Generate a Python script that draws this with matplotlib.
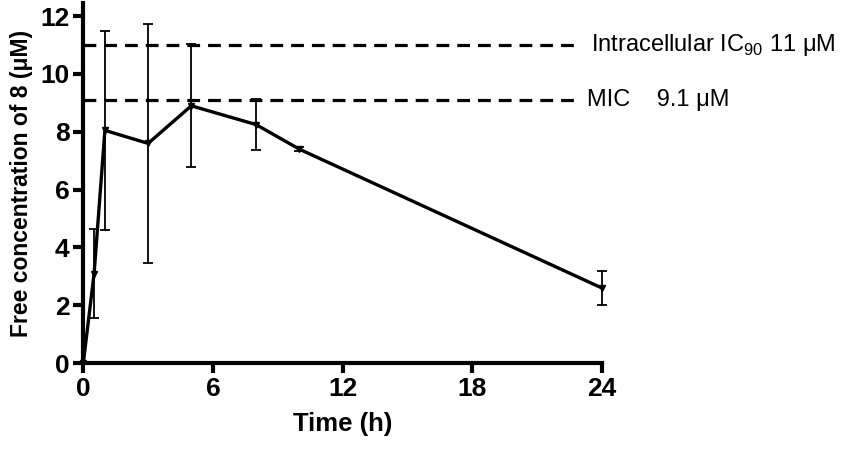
import numpy as np
import matplotlib.pyplot as plt

plt.rcParams['font.family'] = ['Liberation Sans', 'DejaVu Sans']
plt.rcParams['mathtext.fontset'] = 'custom'
plt.rcParams['mathtext.rm'] = 'Liberation Sans'

# free concentration of 8 over time
time_h = [0, 0.5, 1, 3, 5, 8, 10, 24]
conc = [0.0, 3.1, 8.05, 7.6, 8.9, 8.25, 7.4, 2.6]
conc_err = [0.0, 1.55, 3.45, 4.12, 2.13, 0.87, 0.08, 0.6]

ic90 = 11.0
mic = 9.1

fig = plt.figure(figsize=(8.5, 4.5), dpi=100)
ax = fig.add_axes([0.098, 0.193, 0.61, 0.8])

ax.errorbar(time_h, conc, yerr=conc_err, color='black', linewidth=2.4,
            elinewidth=1.3, capsize=3.5, capthick=1.3,
            marker='v', markersize=5, clip_on=False, zorder=3)

ax.plot([0, 23.0], [ic90, ic90], color='black', linewidth=2.3,
        dashes=(4, 2.5), clip_on=False)
ax.plot([0, 23.0], [mic, mic], color='black', linewidth=2.3,
        dashes=(4, 2.5), clip_on=False)
ax.text(23.5, ic90, 'Intracellular IC$_{90}$ 11 μM', fontsize=17,
        va='center', ha='left')
ax.text(23.3, mic, 'MIC    9.1 μM', fontsize=17, va='center', ha='left')

ax.set_xlim(0, 24)
ax.set_ylim(0, 12.45)
ax.set_xticks([0, 6, 12, 18, 24])
ax.set_yticks([0, 2, 4, 6, 8, 10, 12])

for side in ['top', 'right']:
    ax.spines[side].set_visible(False)
for side in ['left', 'bottom']:
    ax.spines[side].set_linewidth(3)
ax.tick_params(width=3, length=7, direction='out', labelsize=19, pad=3)
for lab in ax.get_xticklabels() + ax.get_yticklabels():
    lab.set_fontweight('bold')

ax.set_xlabel('Time (h)', fontsize=18.5, fontweight='bold', labelpad=8)
ax.set_ylabel('Free concentration of 8 (μM)', fontsize=16.5, fontweight='bold',
              labelpad=5)

fig.savefig('out.png', dpi=100)
